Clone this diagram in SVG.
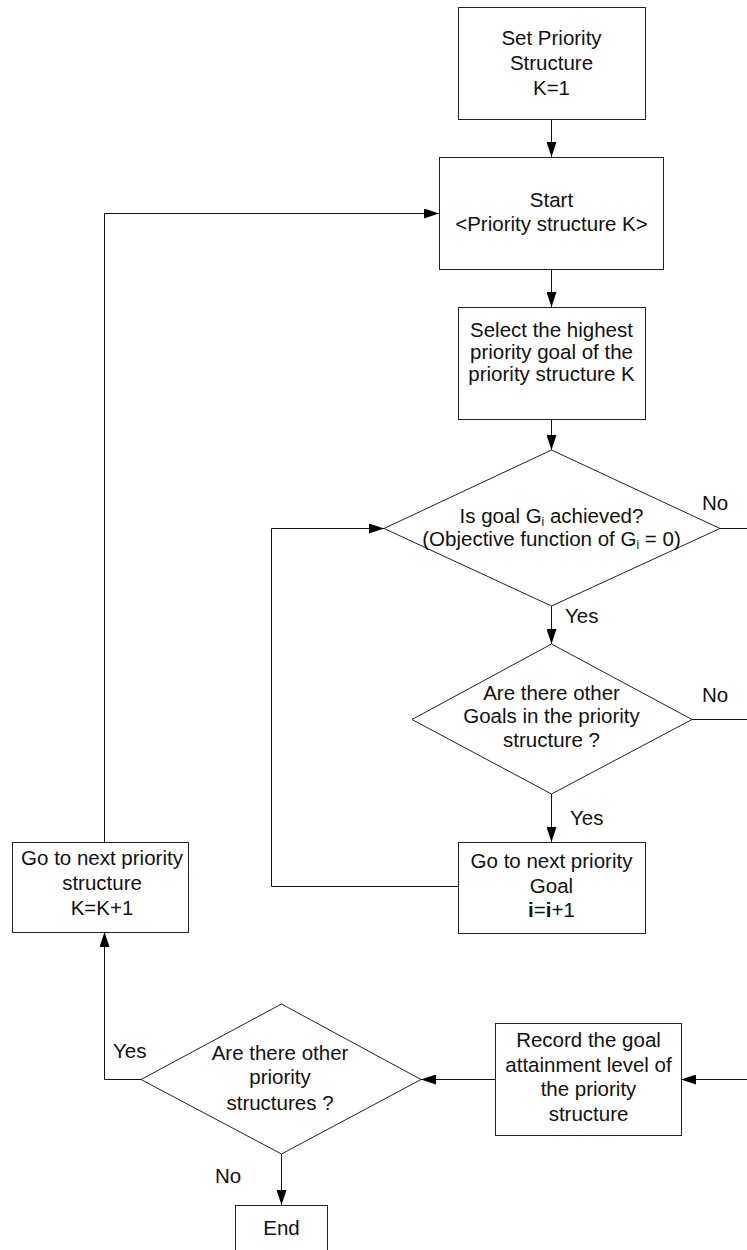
<svg xmlns="http://www.w3.org/2000/svg" width="747" height="1250" viewBox="0 0 747 1250">
  <style>
    .box { fill: #fff; stroke: #222; stroke-width: 1; }
    .edge { fill: none; stroke: #111; stroke-width: 1; }
    .lbl { font-family: "Liberation Sans", Arial, sans-serif; font-size: 20.5px; fill: #111; }
    .c { text-anchor: middle; }
  </style>
  <defs>
    <marker id="arrow" markerUnits="userSpaceOnUse" markerWidth="15" markerHeight="10" refX="15" refY="5" orient="auto">
      <path d="M0,0 L15,5 L0,10 z" fill="#000"/>
    </marker>
  </defs>
  <rect width="747" height="1250" fill="#fff"/>

  <!-- connectors -->
  <g id="connectors">
    <path class="edge" d="M551.5,119 V157" marker-end="url(#arrow)"/>
    <path class="edge" d="M551.5,269 V307" marker-end="url(#arrow)"/>
    <path class="edge" d="M551.5,419 V450" marker-end="url(#arrow)"/>
    <path class="edge" d="M551.5,606 V644" marker-end="url(#arrow)"/>
    <path class="edge" d="M551.5,794 V842" marker-end="url(#arrow)"/>
    <path class="edge" d="M458,886.5 H271.5 V528.5 H384" marker-end="url(#arrow)"/>
    <path class="edge" d="M720,528.5 H747"/>
    <path class="edge" d="M692,719.5 H747"/>
    <path class="edge" d="M747,1079.5 H681" marker-end="url(#arrow)"/>
    <path class="edge" d="M495,1079.5 H421" marker-end="url(#arrow)"/>
    <path class="edge" d="M141,1079.5 H104.5 V932" marker-end="url(#arrow)"/>
    <path class="edge" d="M104.5,842 V213.5 H439" marker-end="url(#arrow)"/>
    <path class="edge" d="M281.5,1154 V1205" marker-end="url(#arrow)"/>
  </g>

  <!-- edge labels -->
  <g id="edge-labels" class="lbl">
    <text x="702" y="510">No</text>
    <text x="565" y="623">Yes</text>
    <text x="702" y="702">No</text>
    <text x="570" y="825">Yes</text>
    <text x="113" y="1058">Yes</text>
    <text x="215" y="1183">No</text>
  </g>

  <g id="set-priority">
    <rect class="box" x="458.5" y="7.5" width="187" height="112"/>
    <text class="lbl c" x="551.5" y="45">Set Priority</text>
    <text class="lbl c" x="551.5" y="70">Structure</text>
    <text class="lbl c" x="551.5" y="95">K=1</text>
  </g>

  <g id="start">
    <rect class="box" x="439.5" y="157.5" width="224" height="112"/>
    <text class="lbl c" x="551.5" y="207">Start</text>
    <text class="lbl c" x="551.5" y="231">&lt;Priority structure K&gt;</text>
  </g>

  <g id="select-goal">
    <rect class="box" x="458.5" y="307.5" width="187" height="112"/>
    <text class="lbl c" x="551.5" y="337">Select the highest</text>
    <text class="lbl c" x="551.5" y="359">priority goal of the</text>
    <text class="lbl c" x="551.5" y="381">priority structure K</text>
  </g>

  <g id="goal-achieved">
    <polygon class="box" points="551.5,450 720,528.5 551.5,606 384,528.5"/>
    <text class="lbl c" x="551.5" y="523">Is goal G<tspan font-size="12" dy="3">i</tspan><tspan dy="-3"> achieved?</tspan></text>
    <text class="lbl c" x="551.5" y="546">(Objective function of G<tspan font-size="12" dy="3">i</tspan><tspan dy="-3"> = 0)</tspan></text>
  </g>

  <g id="other-goals">
    <polygon class="box" points="551.5,644 692,719.5 551.5,794 412,719.5"/>
    <text class="lbl c" x="551.5" y="700">Are there other</text>
    <text class="lbl c" x="551.5" y="723">Goals in the priority</text>
    <text class="lbl c" x="551.5" y="747">structure ?</text>
  </g>

  <g id="next-goal">
    <rect class="box" x="458.5" y="842.5" width="187" height="91"/>
    <text class="lbl c" x="551.5" y="868">Go to next priority</text>
    <text class="lbl c" x="551.5" y="893">Goal</text>
    <text class="lbl c" x="551.5" y="917"><tspan font-weight="bold">i</tspan>=<tspan font-weight="bold">i</tspan>+1</text>
  </g>

  <g id="next-structure">
    <rect class="box" x="12.5" y="842.5" width="176" height="90"/>
    <text class="lbl c" x="102" y="865">Go to next priority</text>
    <text class="lbl c" x="102" y="890">structure</text>
    <text class="lbl c" x="102" y="915">K=K+1</text>
  </g>

  <g id="record-level">
    <rect class="box" x="495.5" y="1023.5" width="186" height="112"/>
    <text class="lbl c" x="588.5" y="1047">Record the goal</text>
    <text class="lbl c" x="588.5" y="1071.5">attainment level of</text>
    <text class="lbl c" x="588.5" y="1096">the priority</text>
    <text class="lbl c" x="588.5" y="1120.5">structure</text>
  </g>

  <g id="other-structures">
    <polygon class="box" points="281.5,1004 421,1079.5 281.5,1154 141,1079.5"/>
    <text class="lbl c" x="280" y="1060">Are there other</text>
    <text class="lbl c" x="280" y="1084">priority</text>
    <text class="lbl c" x="280" y="1110">structures ?</text>
  </g>

  <g id="end">
    <rect class="box" x="235.5" y="1205.5" width="92" height="60"/>
    <text class="lbl c" x="281.5" y="1235">End</text>
  </g>
</svg>
